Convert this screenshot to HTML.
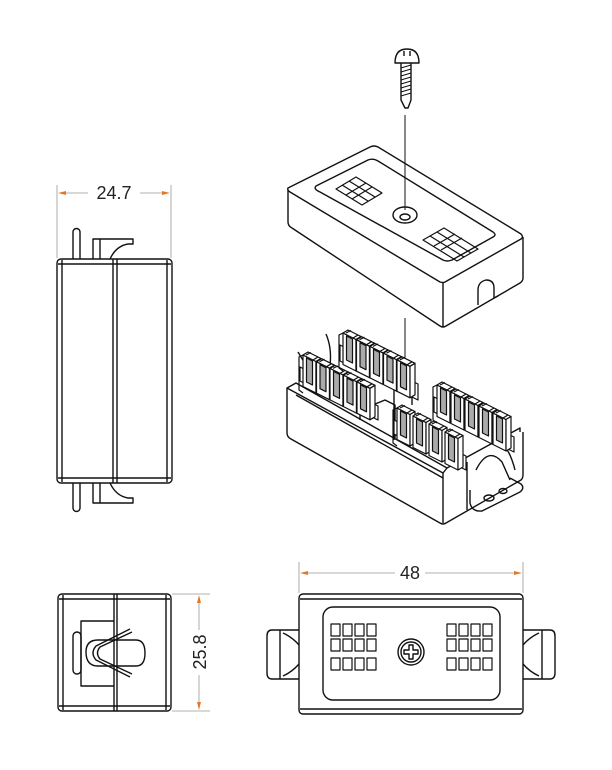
<!DOCTYPE html>
<html><head><style>html,body{margin:0;padding:0;background:#fff}svg{display:block}</style></head>
<body>
<svg width="612" height="770" viewBox="0 0 612 770" xmlns="http://www.w3.org/2000/svg" font-family="Liberation Sans, sans-serif">
<defs>
<g id="t" stroke="#111" stroke-width="1.2" stroke-linejoin="round">
<path d="M0 0 L13 6.5 L13 38 L0 31.5 Z" fill="#fff"/>
<path d="M0 0 L5 -3 L18 3.5 L13 6.5 Z" fill="#fff"/>
<path d="M13 6.5 L18 3.5 L18 35 L13 38 Z" fill="#fff"/>
<path d="M3.5 3 L9.5 6 L9.5 30 L3.5 27 Z" fill="#aaa"/>
<path d="M3 0 L8 -2.5 M10 5 L15 2" fill="none"/>
</g>
</defs>
<g fill="none" stroke="#111" stroke-width="1.4" stroke-linejoin="round">
<!-- Left side view -->
<rect x="57" y="259" width="115" height="224" rx="4"/>
<line x1="62" y1="260" x2="62" y2="482"/>
<line x1="167" y1="260" x2="167" y2="482"/>
<line x1="58" y1="264" x2="171" y2="264"/>
<line x1="58" y1="478" x2="171" y2="478"/>
<line x1="113" y1="259" x2="113" y2="483"/><line x1="117" y1="259" x2="117" y2="483"/>
<path d="M73 259 V232 a3.5 3.5 0 0 1 7 0 V259"/>
<path d="M73 483 V508 a3.5 3.5 0 0 0 7 0 V483"/>
<path d="M93 259 V239 H133 V244 H128 Q116 246 110 259"/>
<line x1="100" y1="239" x2="100" y2="259"/>
<path d="M93 483 V503 H133 V498 H128 Q116 496 110 483"/>
<line x1="100" y1="503" x2="100" y2="483"/>

<!-- Bottom-left end view -->
<rect x="58" y="594" width="113" height="117" rx="4"/>
<line x1="63" y1="595" x2="63" y2="710"/><line x1="166" y1="595" x2="166" y2="710"/>
<line x1="59" y1="599" x2="170" y2="599"/><line x1="59" y1="706" x2="170" y2="706"/>
<line x1="114" y1="594" x2="114" y2="711"/><line x1="117" y1="594" x2="117" y2="711"/>
<polyline points="114,621 81,621 81,686 114,686"/>
<rect x="73" y="632" width="8" height="42" rx="4"/>
<path d="M98 640 Q86 640 86 652 Q86 666 98 666 H136 Q145 666 145 653 Q145 640 136 640 Z"/>
<path d="M130 629 L96 646 Q90 653 96 660 L130 677"/>
<path d="M132 632 L100 647 Q95 653 100 659 L132 674"/>

<!-- Front view bottom right -->
<rect x="299" y="594" width="224" height="120" rx="4"/>
<line x1="300" y1="599" x2="522" y2="599"/><line x1="300" y1="709" x2="522" y2="709"/>
<rect x="323" y="607" width="177" height="93" rx="10"/>
<path d="M299 630 H272 Q267 630 267 636 V673 Q267 679 272 679 H299"/>
<path d="M523 630 H550 Q555 630 555 636 V673 Q555 679 550 679 H523"/>
<line x1="280" y1="630" x2="280" y2="679"/><line x1="542" y1="630" x2="542" y2="679"/>
<path d="M283 633 Q292 637 299 645 M283 676 Q292 672 299 664"/>
<path d="M539 633 Q530 637 523 645 M539 676 Q530 672 523 664"/>
<circle cx="411" cy="652" r="13"/><circle cx="411" cy="652" r="10"/>
<path d="M404 650 H409 V645 H413 V650 H418 V654 H413 V659 H409 V654 H404 Z"/>
<g stroke-width="1.2">
<rect x="331" y="624" width="9" height="12"/><rect x="343" y="624" width="9" height="12"/><rect x="355" y="624" width="9" height="12"/><rect x="367" y="624" width="9" height="12"/>
<rect x="331" y="639" width="9" height="12"/><rect x="343" y="639" width="9" height="12"/><rect x="355" y="639" width="9" height="12"/><rect x="367" y="639" width="9" height="12"/>
<rect x="331" y="658" width="9" height="12"/><rect x="343" y="658" width="9" height="12"/><rect x="355" y="658" width="9" height="12"/><rect x="367" y="658" width="9" height="12"/>
<rect x="447" y="624" width="9" height="12"/><rect x="459" y="624" width="9" height="12"/><rect x="471" y="624" width="9" height="12"/><rect x="483" y="624" width="9" height="12"/>
<rect x="447" y="639" width="9" height="12"/><rect x="459" y="639" width="9" height="12"/><rect x="471" y="639" width="9" height="12"/><rect x="483" y="639" width="9" height="12"/>
<rect x="447" y="658" width="9" height="12"/><rect x="459" y="658" width="9" height="12"/><rect x="471" y="658" width="9" height="12"/><rect x="483" y="658" width="9" height="12"/>
</g>

<!-- Screw -->
<path d="M395 63 Q395 49 407 49 Q419 49 419 63 Z"/>
<line x1="404" y1="51" x2="404" y2="56"/><line x1="410" y1="51" x2="410" y2="56"/>
<path d="M401 63 V100 L405 108 H408 L411 100 V63"/>
<path d="M401 68 L411 65 M401 72 L411 69 M401 76 L411 73 M401 80 L411 77 M401 84 L411 81 M401 88 L411 85 M401 92 L411 89 M401 96 L411 93" stroke-width="1"/>
<line x1="405" y1="115" x2="405" y2="210" stroke-width="1"/>
<line x1="405" y1="318" x2="405" y2="385" stroke-width="1"/>

<!-- Cover (isometric) -->
<path d="M288 188 L370 147 Q374 145 378 147 L521 234 Q524 237 521 239 L445 282 Q443 283 440 282 L290 192 Q287 190 288 188 Z"/>
<path d="M288 190 V222 Q288 226 292 228 L440 326 Q443 328 446 326 L520 283 Q523 281 523 278 V237"/>
<line x1="443" y1="283" x2="443" y2="327"/>
<path d="M316 186 L368 160 Q373 158 378 161 L493 232 Q497 235 493 237 L452 260 Q447 262 443 260 L320 192 Q313 189 316 186 Z"/>
<ellipse cx="405" cy="215" rx="12" ry="8"/><ellipse cx="405" cy="217" rx="5" ry="3"/>
<path d="M478 305 V290 Q478 282 486 280 Q494 280 494 288 V298 L498 296"/>
<g stroke-width="1.2">
<path d="M336 189 L356 177 L382 193 L362 205 Z M342 185 L368 201 M349 181 L375 197 M346 195 L366 183 M352 199 L372 187"/>
<path d="M423 240 L444 228 L478 249 L457 261 Z M430 236 L464 257 M437 232 L471 253 M434 246 L455 234 M441 250 L462 238"/>
</g>

<!-- Base body -->
<path d="M287 388 V433 Q287 437 291 439 L440 523 Q443 525 446 523 L521 480 Q523 478 523 475 V432"/>
<path d="M287 388 L296 383 L447 468 L443 473 Z" fill="#fff"/>
<line x1="443" y1="473" x2="443" y2="523"/>
<line x1="467" y1="462" x2="467" y2="510"/>
<path d="M296 395 L443 478"/>
<path d="M447 468 L520 428 V432"/>
<path d="M470 490 L470 503 Q472 512 482 511 L520 492 Q525 488 521 484 L510 478"/>
<ellipse cx="489" cy="498" rx="5" ry="3"/><ellipse cx="503" cy="491" rx="4" ry="2.5"/>
<path d="M476 470 Q488 446 502 462 L510 480 M494 440 Q508 442 515 470"/>
<path d="M298 352 Q304 362 308 368 M326 334 Q332 348 330 365"/>
<path d="M360 420 L360 410 L385 400 L395 405 L395 438"/>
<path d="M395 380 Q400 372 410 378 Q415 385 408 392"/>
<path d="M394 383 V440 M412 384 V405"/>
</g>
<!-- Terminal block bases -->
<g fill="#fff" stroke="#111" stroke-width="1.2" stroke-linejoin="round">
<path d="M340 345 L418 384 L418 400 L340 361 Z"/>
<path d="M434 397 L514 437 L514 452 L434 412 Z"/>
<path d="M300 367 L378 406 L378 420 L300 381 Z"/>
<path d="M394 420 L466 456 L466 470 L394 434 Z"/>
</g>
<!-- Terminal blocks (back to front) -->
<use href="#t" x="343" y="333"/><use href="#t" x="356.5" y="339.7"/><use href="#t" x="370" y="346.4"/><use href="#t" x="383.5" y="353.1"/><use href="#t" x="397" y="359.8"/>
<use href="#t" x="437" y="385"/><use href="#t" x="451" y="392"/><use href="#t" x="465" y="399"/><use href="#t" x="479" y="406"/><use href="#t" x="493" y="413"/>
<use href="#t" x="303" y="355"/><use href="#t" x="316.5" y="361.7"/><use href="#t" x="330" y="368.4"/><use href="#t" x="343.5" y="375.1"/><use href="#t" x="357" y="381.8"/>
<use href="#t" x="397" y="408"/><use href="#t" x="413" y="416"/><use href="#t" x="429" y="424"/><use href="#t" x="445" y="432"/>
<g fill="none" stroke="#111" stroke-width="1.2">
<path d="M343 333 L339 335 V368 L343 371"/>
<path d="M437 385 L433 387 V420 L437 423"/>
<path d="M303 355 L299 357 V390 L303 393"/>
<path d="M397 408 L393 410 V443 L397 446"/>
</g>

<!-- Dimensions -->
<g stroke="#999" stroke-width="0.8" fill="none">
<line x1="57" y1="185" x2="57" y2="258"/><line x1="171" y1="185" x2="171" y2="258"/>
<line x1="60" y1="193" x2="88" y2="193"/><line x1="140" y1="193" x2="168" y2="193"/>
<line x1="299" y1="562" x2="299" y2="593"/><line x1="523" y1="562" x2="523" y2="593"/>
<line x1="302" y1="573" x2="395" y2="573"/><line x1="425" y1="573" x2="520" y2="573"/>
<line x1="172" y1="594" x2="210" y2="594"/><line x1="172" y1="711" x2="210" y2="711"/>
<line x1="199" y1="597" x2="199" y2="630"/><line x1="199" y1="675" x2="199" y2="708"/>
</g>
<g fill="#e07a2a">
<path d="M58 193 L66 191 L66 195 Z"/><path d="M170 193 L162 191 L162 195 Z"/>
<path d="M300 573 L308 571 L308 575 Z"/><path d="M522 573 L514 571 L514 575 Z"/>
<path d="M199 595 L197 603 L201 603 Z"/><path d="M199 710 L197 702 L201 702 Z"/>
</g>
<g fill="#222" font-size="18">
<text x="114" y="199" text-anchor="middle">24.7</text>
<text x="410" y="579" text-anchor="middle">48</text>
<text transform="translate(206,652) rotate(-90)" text-anchor="middle">25.8</text>
</g>
</svg>
</body></html>
